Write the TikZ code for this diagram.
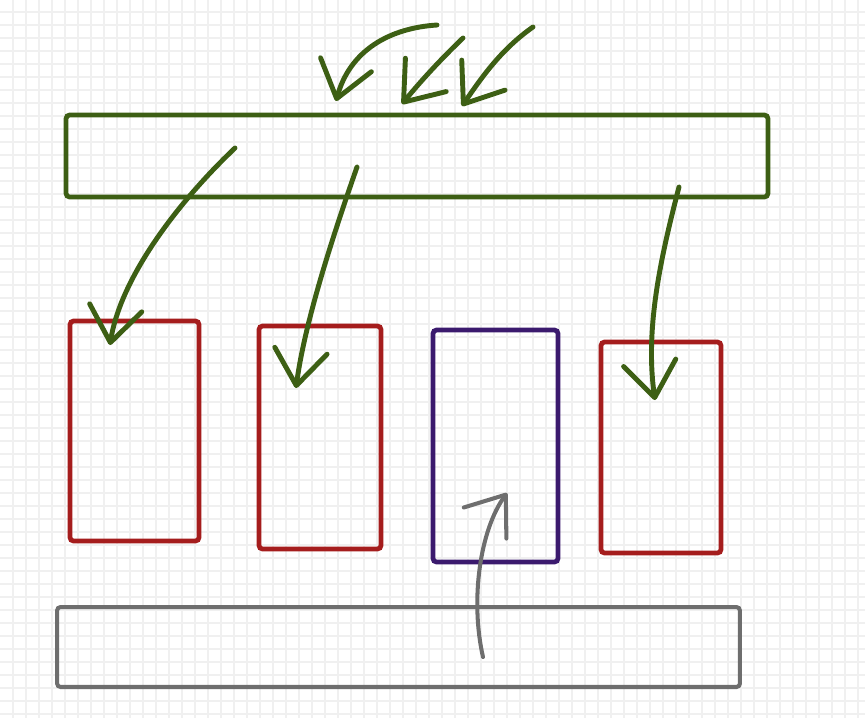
\documentclass[tikz,border=0pt]{standalone}
\usetikzlibrary{arrows.meta}
\definecolor{leaf}{HTML}{3D5F14}
\definecolor{brick}{HTML}{A51D1D}
\definecolor{plum}{HTML}{3B1A6E}
\definecolor{slate}{HTML}{6E6E6E}
\begin{document}
\begin{tikzpicture}[x=0.02cm,y=-0.02cm,
  box/.style={draw,line width=2.7pt,rounded corners=2pt,inner sep=0pt},
  flow/.style={line width=2.8pt,line cap=round,line join=round,
    -{Straight Barb[round,length=20pt,width=30pt]}}]
\useasboundingbox (0,0) rectangle (865,718);

% grid paper
\foreach \g in {13,26,...,865} \draw[black!6,line width=0.8pt] (\g,0) -- (\g,718);
\foreach \g in {12,25,...,718} \draw[black!6,line width=0.8pt] (0,\g) -- (865,\g);

% bars and slots
\node[box,leaf,minimum width=14.04cm,minimum height=1.64cm] (top) at (417,156) {};
\node[box,brick,minimum width=2.58cm,minimum height=4.4cm] (r1) at (134.5,431) {};
\node[box,brick,minimum width=2.44cm,minimum height=4.46cm] (r2) at (320,437.5) {};
\node[box,plum,minimum width=2.5cm,minimum height=4.64cm] (pu) at (495.5,446) {};
\node[box,brick,minimum width=2.4cm,minimum height=4.22cm] (r4) at (661,447.5) {};
\node[box,slate,line width=2.3pt,minimum width=13.66cm,minimum height=1.6cm] (bottom) at (398.5,647) {};

% ends of the connectors
\coordinate (in1) at (437,25);
\coordinate (in2) at (463,38);
\coordinate (in3) at (533,27);
\coordinate (hit1) at (336,101);
\coordinate (hit2) at (402,104);
\coordinate (hit3) at (462,106);
\coordinate (t1) at (235,148);
\coordinate (t2) at (357,167);
\coordinate (t4) at (679,187);
\coordinate (d1) at (110,345);
\coordinate (d2) at (296,388);
\coordinate (d4) at (655,400);
\coordinate (b3) at (483,657);
\coordinate (u3) at (507,493);

% incoming
\draw[flow,leaf] (in1) .. controls (390,28) and (350,50) .. (hit1);
\draw[flow,leaf] (in2) .. controls (440,60) and (420,82) .. (hit2);
\draw[flow,leaf] (in3) .. controls (500,50) and (480,80) .. (hit3);

% top bar into slots
\draw[flow,leaf] (t1) .. controls (175,205) and (120,280) .. (d1);
\draw[flow,leaf] (t2) .. controls (335,230) and (305,320) .. (d2);
\draw[flow,leaf] (t4) .. controls (660,260) and (645,330) .. (d4);

% bottom bar up
\draw[flow,slate,line width=2.3pt] (b3) .. controls (470,600) and (480,530) .. (u3);
\end{tikzpicture}
\end{document}
